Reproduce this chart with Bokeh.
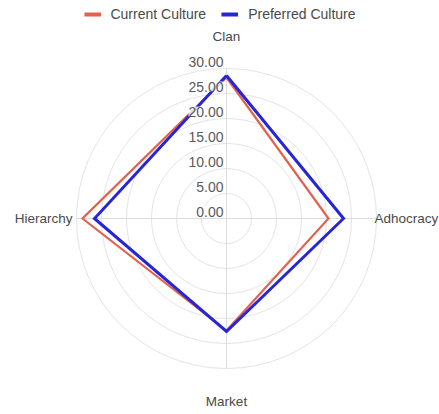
import numpy as np
from bokeh.plotting import figure
from bokeh.models import Legend, LegendItem
from bokeh.core.properties import value
from bokeh.embed import file_html
from bokeh.resources import INLINE

categories = ["Clan", "Adhocracy", "Market", "Hierarchy"]
current_culture = [28.2, 20.4, 22.4, 28.8]
preferred_culture = [28.6, 23.4, 22.6, 26.4]
tick_values = [0, 5, 10, 15, 20, 25, 30]
tick_labels = ["0.00", "5.00", "10.00", "15.00", "20.00", "25.00", "30.00"]
series_names = ["Current Culture", "Preferred Culture"]
series_colors = ["#e2624e", "#2626d6"]

W, H = 439, 414
PX = 5.0          # pixels per data unit
CX, CY = 226, 218  # centre in screen pixels (from top-left)
R_MAX = 30

FONT = "Liberation Sans"

p = figure(width=W, height=H, output_backend="svg", toolbar_location=None,
           x_range=(-CX / PX, (W - CX) / PX), y_range=(-(H - CY) / PX, CY / PX),
           min_border=0, outline_line_color=None)
p.axis.visible = False
p.grid.visible = False
p.background_fill_color = "white"
p.border_fill_color = "white"

n = len(categories)
angles = [np.pi / 2 - 2 * np.pi * i / n for i in range(n)]

# rings
ring_r = [t for t in tick_values if t > 0]
p.ellipse(x=[0] * len(ring_r), y=[0] * len(ring_r), width=[2 * r for r in ring_r],
          height=[2 * r for r in ring_r], fill_color=None, line_color="#e4e4e4", line_width=1)
# angle lines
p.segment(x0=[0] * n, y0=[0] * n, x1=[R_MAX * np.cos(a) for a in angles],
          y1=[R_MAX * np.sin(a) for a in angles], line_color="#dcdcdc", line_width=1)

# series
legend_items = []
for name, vals, col, lw in zip(series_names, [current_culture, preferred_culture], series_colors, [2.2, 3]):
    xs = [v * np.cos(a) for v, a in zip(vals, angles)]
    ys = [v * np.sin(a) for v, a in zip(vals, angles)]
    xs.append(xs[0]); ys.append(ys[0])
    p.line(xs, ys, line_color=col, line_width=lw, line_join="miter")
    dummy = p.line([np.nan, np.nan], [np.nan, np.nan], line_color=col, line_width=4)
    legend_items.append(LegendItem(label=name, renderers=[dummy]))

# tick labels
p.text(x=[0] * len(tick_values), y=tick_values, text=tick_labels, text_align="right",
       text_baseline="middle", x_offset=-3, y_offset=-7, text_font=value(FONT),
       text_font_size="14px", text_color="#5a5a5a",
       background_fill_color="white", background_fill_alpha=0.8)

# point labels
lab_r = 36.5
common = dict(text_font=value(FONT), text_font_size="13.5px", text_color="#4a4a4a",
              text_baseline="middle")
p.text(x=[0], y=[lab_r], text=[categories[0]], text_align="center", **common)
p.text(x=[29.6], y=[0], text=[categories[1]], text_align="left", **common)
p.text(x=[0], y=[-lab_r], text=[categories[2]], text_align="center", **common)
p.text(x=[-30.8], y=[0], text=[categories[3]], text_align="right", **common)

legend = Legend(items=legend_items,
                orientation="horizontal", location="top_center", border_line_color=None,
                background_fill_alpha=0, label_text_font=FONT, label_text_font_size="14px",
                label_text_color="#4a4a4a", glyph_width=17, label_standoff=10, spacing=15,
                padding=2, margin=6, label_height=14, glyph_height=14)
p.add_layout(legend)

open("out.html", "w").write(file_html(p, INLINE))
